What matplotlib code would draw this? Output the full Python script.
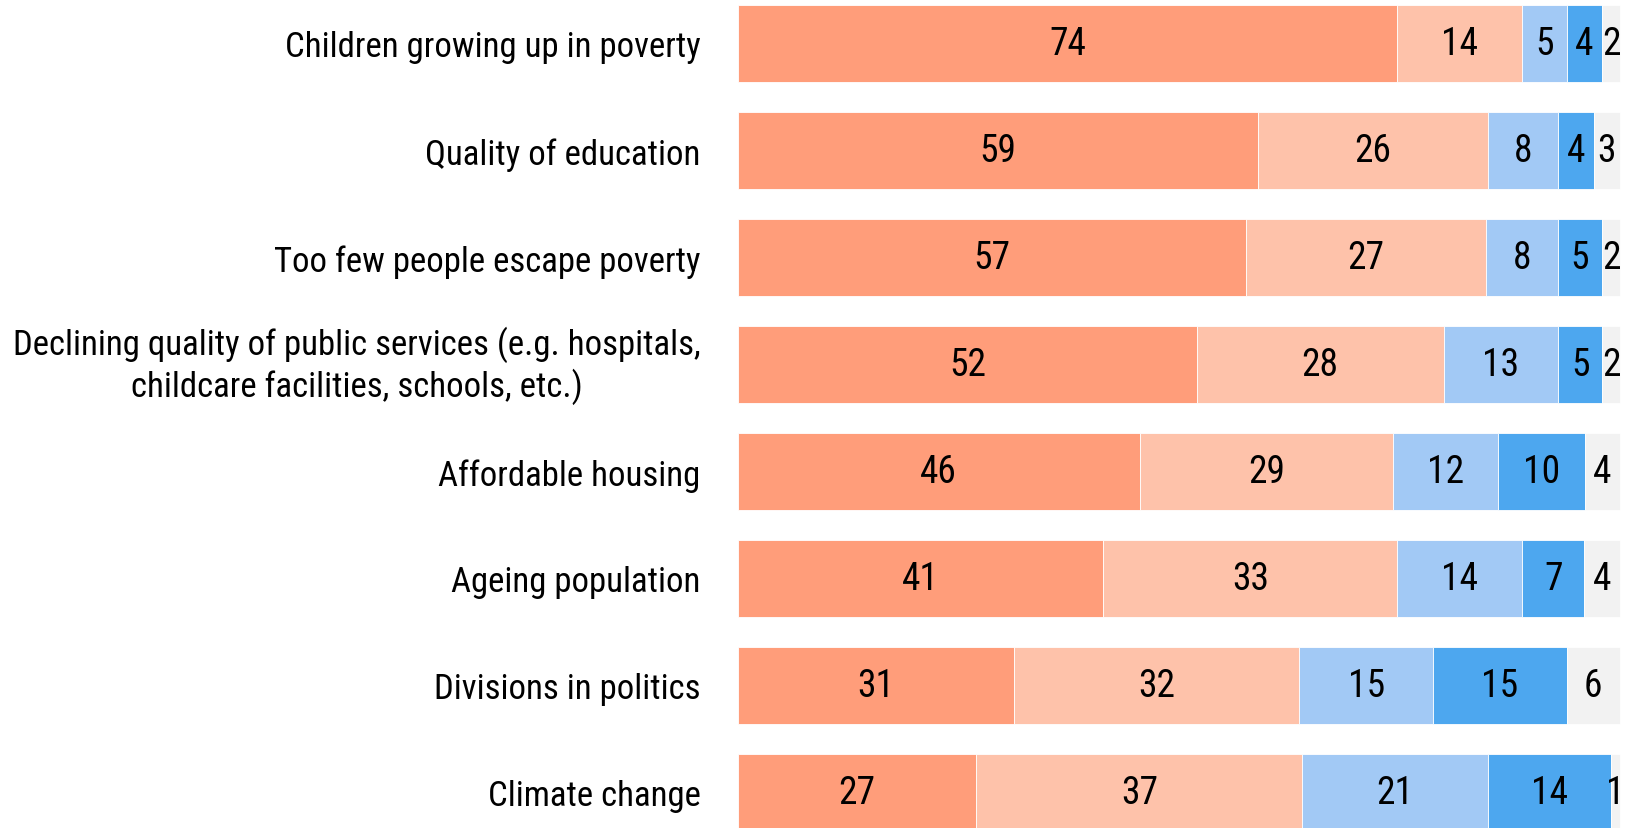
import matplotlib
matplotlib.use("Agg")
import matplotlib.pyplot as plt
from matplotlib import font_manager

categories = [
    "Children growing up in poverty",
    "Quality of education",
    "Too few people escape poverty",
    "Declining quality of public services (e.g. hospitals,\nchildcare facilities, schools, etc.)",
    "Affordable housing",
    "Ageing population",
    "Divisions in politics",
    "Climate change",
]
very_big = [74, 59, 57, 52, 46, 41, 31, 27]
fairly_big = [14, 26, 27, 28, 29, 33, 32, 37]
not_very_big = [5, 8, 8, 13, 12, 14, 15, 21]
not_problem = [4, 4, 5, 5, 10, 7, 15, 14]
dont_know = [2, 3, 2, 2, 4, 4, 6, 1]

series = [very_big, fairly_big, not_very_big, not_problem, dont_know]
colors = ["#FF9D7A", "#FEC2AA", "#A2C9F5", "#4DA7EF", "#F2F2F2"]

names = {f.name for f in font_manager.fontManager.ttflist}
family = "DejaVu Sans"
for cand in ["Roboto Condensed", "Liberation Sans Narrow", "Roboto"]:
    if cand in names:
        family = cand
        break
plt.rcParams["font.family"] = family

W, H = 1628, 829
fig = plt.figure(figsize=(W / 100, H / 100), dpi=100)
left_px, right_px = 738, 1620
ax = fig.add_axes([left_px / W, 0, (W - left_px) / W, 1])
ax.set_xlim(0, 100 * (W - left_px) / (right_px - left_px))
row_px = 107.0
c0 = 44.5
ax.set_ylim((H - c0) / row_px, -c0 / row_px)

ys = list(range(len(categories)))
totals = [sum(s[i] for s in series) for i in ys]
lefts = [0.0] * len(categories)
for vals, col in zip(series, colors):
    widths = [v * 100.0 / t for v, t in zip(vals, totals)]
    ax.barh(ys, widths, left=lefts, height=0.72, color=col,
            edgecolor="white", linewidth=0.6)
    for y, v, w, l in zip(ys, vals, widths, lefts):
        ax.text(l + w / 2, y, str(v), ha="center", va="center",
                fontsize=27, color="black")
    lefts = [l + w for l, w in zip(lefts, widths)]

ax.set_yticks(ys)
ax.set_yticklabels(categories, fontsize=25, multialignment="center")
for lab in ax.get_yticklabels():
    if "\n" in lab.get_text():
        lab.set_va("center")
ax.tick_params(axis="y", length=0, pad=27)
ax.set_xticks([])
for s in ax.spines.values():
    s.set_visible(False)

fig.savefig("out.png", dpi=100)
